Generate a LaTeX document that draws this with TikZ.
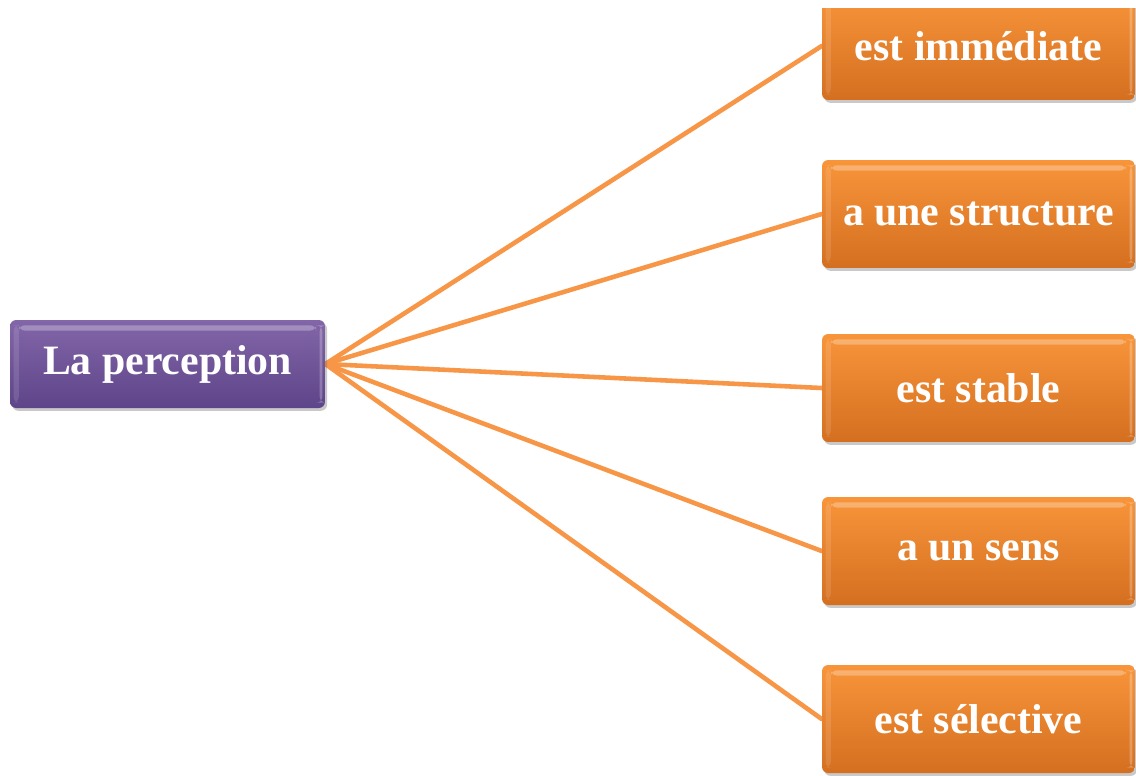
\documentclass[tikz,border=0pt]{standalone}
\usepackage{fontspec}
\setmainfont{Liberation Serif}
\usetikzlibrary{shadows,backgrounds}
\definecolor{orTop}{HTML}{F8953A}
\definecolor{orBot}{HTML}{D46F20}
\definecolor{puTop}{HTML}{8266A8}
\definecolor{puBot}{HTML}{5E4489}
\definecolor{lineOr}{HTML}{F79646}
\tikzset{
  px/.style={x=0.02cm,y=-0.02cm},
  boxbase/.style={rounded corners=3.5pt, inner sep=0pt, text=white,
    font=\fontsize{23.8}{26}\selectfont\bfseries,
    drop shadow={shadow xshift=1.2pt, shadow yshift=-1.6pt, opacity=0.35, fill=black!60},
    path picture={
      \fill[white,opacity=0.28]
        ([xshift=5pt,yshift=-3pt]path picture bounding box.north west) rectangle
        ([xshift=-5pt,yshift=-6pt]path picture bounding box.north east);
      \fill[white,opacity=0.12]
        ([xshift=2pt,yshift=-3pt]path picture bounding box.north west) rectangle
        ([xshift=5pt,yshift=3pt]path picture bounding box.south west);
      \fill[white,opacity=0.25]
        ([xshift=-3pt,yshift=-3pt]path picture bounding box.north east) rectangle
        ([xshift=-1.5pt,yshift=3pt]path picture bounding box.south east);
    }},
  purplebox/.style={boxbase, top color=puTop, bottom color=puBot,
    minimum width=6.3cm, minimum height=1.76cm},
  orangebox/.style={boxbase, top color=orTop, bottom color=orBot,
    minimum width=6.26cm, minimum height=2.16cm},
  link/.style={draw=lineOr, line width=2.6pt, line cap=round}
}
\begin{document}
\begin{tikzpicture}[px]
\useasboundingbox (0,0) rectangle (1136,775);
\node[purplebox] (lp) at (167.5,364) {La perception};
\begin{scope}
\clip (0,8) rectangle (1136,775);
\node[orangebox] (o1) at (978.5,46) {est immédiate};
\end{scope}
\node[orangebox] (o2) at (978.5,214) {a une structure};
\node[orangebox] (o3) at (978.5,388) {est stable};
\node[orangebox] (o4) at (978.5,551) {a un sens};
\node[orangebox] (o5) at (978.5,719) {est sélective};
\begin{scope}[on background layer]
\fill[white] (0,0) rectangle (1136,775);
\foreach \n in {o1,o2,o3,o4,o5}
  \draw[link] (lp.east) -- (\n.west);
\end{scope}
\end{tikzpicture}
\end{document}
